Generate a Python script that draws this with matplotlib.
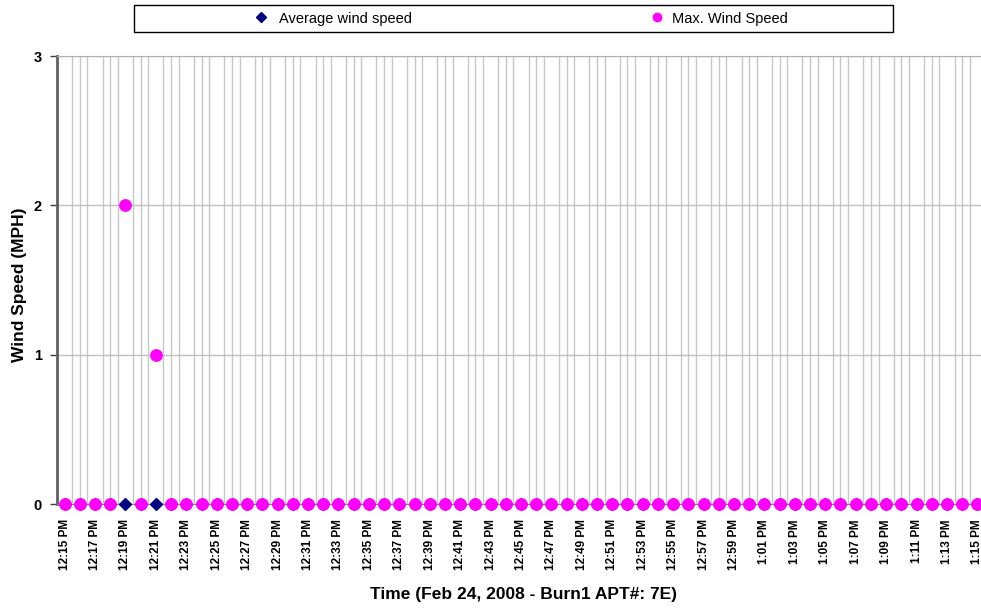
import matplotlib
matplotlib.use("Agg")
import matplotlib.pyplot as plt
from matplotlib.lines import Line2D
from matplotlib.patches import Rectangle
import numpy as np

plt.rcParams['font.family'] = ['Liberation Sans', 'DejaVu Sans']

# Data: one reading per minute, 12:15 PM to 1:15 PM
times = []
for m in range(61):
    tot = 12 * 60 + 15 + m
    h = tot // 60
    mm = tot % 60
    hh = h if h <= 12 else h - 12
    times.append(f"{hh}:{mm:02d} PM")

avg_speed = [0] * 61
max_speed = [0, 0, 0, 0, 2, 0, 1] + [0] * 54

W, H = 981, 609
fig = plt.figure(figsize=(W / 100, H / 100), dpi=100)
ax = fig.add_axes([57 / W, (H - 504) / H, 928 / W, 448 / H])

x = np.arange(len(times))
ax.plot(x, avg_speed, linestyle='none', marker='D', markersize=6.5,
        color='#000080', zorder=3, clip_on=False)
ax.plot(x, max_speed, linestyle='none', marker='o', markersize=8.2,
        color='#FF00FF', zorder=4, clip_on=False)

ax.set_xlim(-0.5, len(times) - 0.5)
ax.set_ylim(0, 3)
ax.set_yticks([0, 1, 2, 3])
ax.set_yticklabels(['0', '1', '2', '3'], fontweight='bold', fontsize=10.5)

ax.set_xticks(x[::2])
ax.set_xticklabels(times[::2], rotation=90, fontweight='bold', fontsize=8.5)
ax.set_xticks(np.arange(-0.5, len(times), 0.5), minor=True)
ax.tick_params(axis='x', which='major', length=0, pad=11)
ax.tick_params(axis='x', which='minor', length=0)
ax.tick_params(axis='y', length=5, width=1, color='#404040', pad=6)

ax.grid(True, which='minor', axis='x', color='#c8c8c8', linewidth=1)
ax.grid(True, which='major', axis='y', color='#c0c0c0', linewidth=1)
ax.set_axisbelow(True)

ax.spines['right'].set_visible(False)
ax.spines['top'].set_color('#b0b0b0')
ax.spines['left'].set_color('#606060')
ax.spines['left'].set_linewidth(2)
ax.spines['bottom'].set_color('#808080')

ax.set_ylabel('Wind Speed (MPH)', fontweight='bold', fontsize=12.5)
ax.yaxis.set_label_coords((27 - 57) / 928, (504 - 285) / 448)
ax.set_xlabel('Time (Feb 24, 2008 - Burn1 APT#: 7E)', fontweight='bold', fontsize=12.5)
ax.xaxis.set_label_coords((524 - 57) / 928, (504 - 587) / 448)

# Legend box
fig.patches.append(Rectangle((134 / W, (H - 32) / H), (893 - 134) / W, 27 / H,
                             transform=fig.transFigure, facecolor='white',
                             edgecolor='black', linewidth=1))
h1 = Line2D([], [], linestyle='none', marker='D', markersize=5, color='#000080')
h2 = Line2D([], [], linestyle='none', marker='o', markersize=6, color='#FF00FF')
fig.legend([h1], ['Average wind speed'], loc='center',
           bbox_to_anchor=(333 / W, (H - 18.5) / H), frameon=False,
           fontsize=10.5, handletextpad=0.7, handlelength=1.0)
fig.legend([h2], ['Max. Wind Speed'], loc='center',
           bbox_to_anchor=(719 / W, (H - 18.5) / H), frameon=False,
           fontsize=10.5, handletextpad=0.5, handlelength=1.0)

fig.savefig('out.png', dpi=100)
